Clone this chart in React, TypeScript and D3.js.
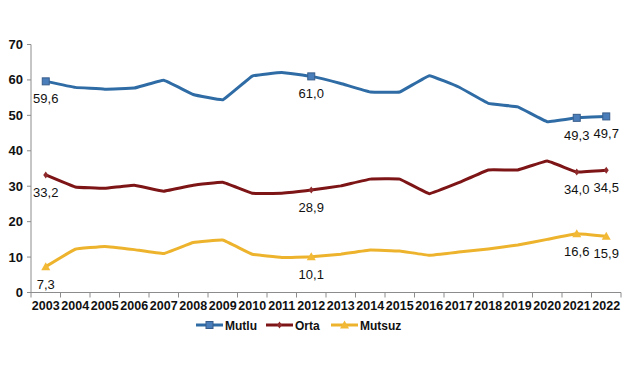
import React from 'react';
import * as d3 from 'd3';

const years = ['2003','2004','2005','2006','2007','2008','2009','2010','2011','2012','2013','2014','2015','2016','2017','2018','2019','2020','2021','2022'];
const mutlu = [59.6,57.9,57.4,57.7,59.9,55.9,54.4,61.1,62.1,61.0,59.0,56.6,56.6,61.2,58.0,53.4,52.4,48.2,49.3,49.7];
const orta = [33.2,29.8,29.4,30.3,28.6,30.3,31.1,28.0,28.0,28.9,30.1,32.0,32.0,27.9,31.0,34.6,34.6,37.1,34.0,34.5];
const mutsuz = [7.3,12.2,13.0,12.1,11.0,14.1,14.8,10.8,9.9,10.1,10.8,12.0,11.7,10.5,11.4,12.3,13.4,15.0,16.6,15.9];
const yTicks = [0,10,20,30,40,50,60,70];
const labelYears = ['2003','2012','2021','2022'];

const W = 633, H = 375;
const fmt = (v: number) => v.toFixed(1).replace('.', ',');

const seriesList = [
  { name: 'Mutlu', values: mutlu, color: '#2F6CA5', marker: 'square' },
  { name: 'Orta', values: orta, color: '#7D1416', marker: 'diamond' },
  { name: 'Mutsuz', values: mutsuz, color: '#EDB32C', marker: 'triangle' },
];

function Marker({ type, x, y }: { type: string; x: number; y: number }) {
  if (type === 'square') {
    return <rect x={x - 3.5} y={y - 3.5} width={7} height={7} fill="#4A7EBB" stroke="#385D8A" strokeWidth={1} />;
  }
  if (type === 'diamond') {
    return <path d={`M${x},${y - 3.5}L${x + 2.5},${y}L${x},${y + 3.5}L${x - 2.5},${y}Z`} fill="#8E2A2C" />;
  }
  return <path d={`M${x},${y - 4.5}L${x + 4.5},${y + 3.5}L${x - 4.5},${y + 3.5}Z`} fill="#F2B937" />;
}

export default function App() {
  const x = d3.scaleBand().domain(years).range([31, 621]);
  const y = d3.scaleLinear().domain([0, 70]).range([292.5, 44.5]);
  const cx = (yr: string) => (x(yr) as number) + x.bandwidth() / 2;

  const line = d3.line<number>()
    .x((_, i) => cx(years[i]))
    .y(d => y(d))
    .curve(d3.curveCardinal.tension(0.8));

  const font = 'Arial, "Liberation Sans", sans-serif';
  const legendX = [196, 266, 331];

  return (
    <svg width={W} height={H} style={{ position: 'absolute', left: 0, top: 0, background: '#fff' }} fontFamily={font}>
      {/* y axis */}
      <line x1={31} x2={31} y1={y(70)} y2={y(0)} stroke="#8C8C8C" />
      {yTicks.map(t => (
        <g key={t}>
          <line x1={27} x2={31} y1={y(t)} y2={y(t)} stroke="#8C8C8C" />
          <text x={23} y={y(t) + 4.5} textAnchor="end" fontSize={13} fontWeight="bold" fill="#111">{t}</text>
        </g>
      ))}
      {/* x axis */}
      <line x1={31} x2={621} y1={y(0)} y2={y(0)} stroke="#8C8C8C" />
      {years.map(yr => (
        <line key={yr} x1={x(yr)} x2={x(yr)} y1={y(0)} y2={y(0) + 5} stroke="#8C8C8C" />
      ))}
      <line x1={621} x2={621} y1={y(0)} y2={y(0) + 5} stroke="#8C8C8C" />
      {years.map(yr => (
        <text key={yr} x={cx(yr)} y={310} textAnchor="middle" fontSize={12.5} fontWeight="bold" fill="#111">{yr}</text>
      ))}

      {seriesList.map(s => (
        <g key={s.name}>
          <path d={line(s.values) || ''} fill="none" stroke={s.color} strokeWidth={3} strokeLinejoin="round" />
          {labelYears.map(yr => {
            const i = years.indexOf(yr);
            const px = cx(yr), py = y(s.values[i]);
            return (
              <g key={yr}>
                <Marker type={s.marker} x={px} y={py} />
                <text x={px} y={py + 22} textAnchor="middle" fontSize={13} fill="#111">{fmt(s.values[i])}</text>
              </g>
            );
          })}
        </g>
      ))}

      {/* legend */}
      {seriesList.map((s, i) => (
        <g key={s.name}>
          <line x1={legendX[i]} x2={legendX[i] + 27} y1={325} y2={325} stroke={s.color} strokeWidth={3} />
          <Marker type={s.marker} x={legendX[i] + 13.5} y={325} />
          <text x={legendX[i] + 29} y={329.5} fontSize={12} fontWeight="bold" fill="#111">{s.name}</text>
        </g>
      ))}
    </svg>
  );
}
